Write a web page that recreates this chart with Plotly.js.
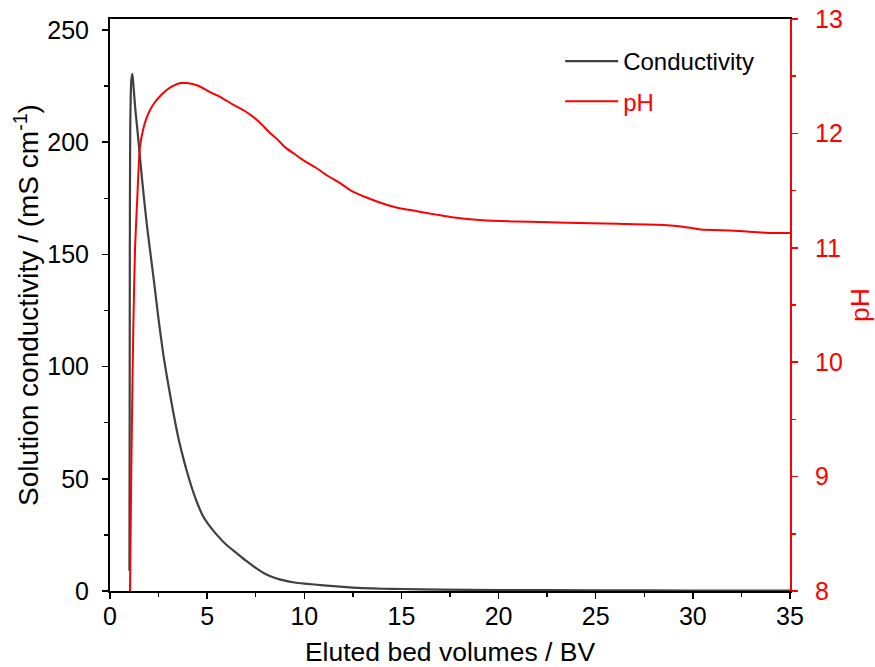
<!DOCTYPE html>
<html>
<head>
<meta charset="utf-8">
<script src="https://cdn.plot.ly/plotly-3.0.1.min.js"></script>
<style>html,body{margin:0;padding:0;background:#fff;}#chart{width:875px;height:667px;}</style>
</head>
<body>
<div id="chart"></div>
<script>
// Conductivity (mS/cm) vs eluted bed volumes
var condX = [1.00, 1.01, 1.02, 1.04, 1.07, 1.10, 1.15, 1.20, 1.30, 1.45, 1.60, 1.75, 1.90, 2.00, 2.25, 2.50, 2.75, 3.00, 3.25, 3.50, 3.75, 4.00, 4.25, 4.50, 4.75, 5.00, 5.50, 6.00, 6.50, 7.00, 7.50, 8.00, 8.50, 9.00, 9.50, 10.0, 11.0, 12.0, 13.0, 14.0, 15.0, 17.0, 20.0, 25.0, 30.0, 35.0];
var condY = [9, 60, 150, 205, 222, 228, 230.5, 226, 215, 202, 188, 175, 163, 156, 139, 121, 105, 92, 80, 69, 60, 52, 45, 39, 34, 30.5, 25, 20.5, 17, 13.5, 10.3, 7.6, 5.8, 4.6, 3.8, 3.3, 2.5, 1.8, 1.3, 1.0, 0.9, 0.6, 0.45, 0.3, 0.2, 0.2];
// pH vs eluted bed volumes
var phX = [1.03, 1.06, 1.13, 1.20, 1.29, 1.40, 1.54, 1.70, 1.85, 2.05, 2.30, 2.66, 3.00, 3.30, 3.65, 3.95, 4.30, 4.63, 5.15, 5.66, 6.35, 6.90, 7.40, 7.80, 8.20, 8.60, 9.00, 9.50, 10.0, 10.6, 11.2, 11.8, 12.4, 13.2, 14.0, 14.8, 15.8, 16.8, 17.5, 19.2, 20.9, 23.5, 26.1, 28.5, 29.5, 30.4, 32.1, 34.0, 35.0];
var phY = [8.0, 8.5, 9.5, 10.3, 11.0, 11.42, 11.88, 12.03, 12.12, 12.20, 12.27, 12.34, 12.39, 12.42, 12.44, 12.44, 12.43, 12.41, 12.36, 12.32, 12.25, 12.20, 12.14, 12.08, 12.01, 11.95, 11.88, 11.82, 11.76, 11.70, 11.63, 11.57, 11.50, 11.44, 11.39, 11.35, 11.32, 11.29, 11.27, 11.24, 11.23, 11.22, 11.21, 11.20, 11.185, 11.16, 11.15, 11.13, 11.13];

var FONT = '"Liberation Sans", Arial, sans-serif';
var TICK_FS = 25, TITLE_FS = 26.5, YTITLE_FS = 28, LEG_FS = 24;

var traces = [
  {x: condX, y: condY, type: 'scatter', mode: 'lines', name: 'Conductivity',
   line: {color: '#404040', width: 2.2, shape: 'spline', smoothing: 0.6}, legendgroup: 'a'},
  {x: phX, y: phY, type: 'scatter', mode: 'lines', name: '<span style="color:#ff0000">pH</span>',
   line: {color: '#ff0000', width: 2, shape: 'spline', smoothing: 0.6}, yaxis: 'y2', legendgroup: 'b'}
];

var layout = {
  width: 875, height: 667,
  margin: {l: 110, r: 85, t: 19, b: 76, pad: 0},
  paper_bgcolor: '#fff', plot_bgcolor: '#fff',
  font: {family: FONT, size: TICK_FS, color: '#000'},
  showlegend: true,
  legend: {x: 0.662, y: 0.965, xanchor: 'left', yanchor: 'top', bgcolor: 'rgba(0,0,0,0)',
           font: {family: FONT, size: LEG_FS, color: '#000'}, traceorder: 'grouped', tracegroupgap: 6, itemwidth: 53},
  xaxis: {
    range: [0, 35], dtick: 5, tick0: 0, showgrid: false, zeroline: false,
    ticks: 'outside', ticklen: 6, tickwidth: 1.5, tickcolor: '#000', ticklabelstandoff: -4,
    showline: true, linecolor: '#000', linewidth: 2, mirror: true,
    minor: {dtick: 2.5, ticks: 'outside', ticklen: 4, tickwidth: 1.5, tickcolor: '#000'},
    tickfont: {family: FONT, size: TICK_FS, color: '#000'},
    title: {text: 'Eluted bed volumes / BV', font: {family: FONT, size: TITLE_FS, color: '#000'}, standoff: 19}
  },
  yaxis: {
    range: [0, 254.9], dtick: 50, tick0: 0, showgrid: false, zeroline: false,
    ticks: 'outside', ticklen: 6, tickwidth: 1.5, tickcolor: '#000', ticklabelstandoff: 8,
    showline: true, linecolor: '#000', linewidth: 2,
    minor: {dtick: 25, ticks: 'outside', ticklen: 4, tickwidth: 1.5, tickcolor: '#000'},
    tickfont: {family: FONT, size: TICK_FS, color: '#000'},
    title: {text: 'Solution conductivity / (mS cm<sup>-1</sup>)', font: {family: FONT, size: YTITLE_FS, color: '#000'}, standoff: 0}
  },
  yaxis2: {
    overlaying: 'y', side: 'right', range: [8, 13], dtick: 1, tick0: 8,
    showgrid: false, zeroline: false,
    ticks: 'outside', ticklen: 6, tickwidth: 1.5, tickcolor: '#ff0000', ticklabelstandoff: 12,
    showline: true, linecolor: '#ff0000', linewidth: 2,
    minor: {dtick: 0.5, ticks: 'outside', ticklen: 4, tickwidth: 1.5, tickcolor: '#ff0000'},
    tickfont: {family: FONT, size: TICK_FS, color: '#ff0000'},
    title: {text: 'pH', font: {family: FONT, size: TITLE_FS, color: '#ff0000'}, standoff: 14}
  }
};

Plotly.newPlot('chart', traces, layout, {displayModeBar: false, staticPlot: true});
</script>
</body>
</html>
